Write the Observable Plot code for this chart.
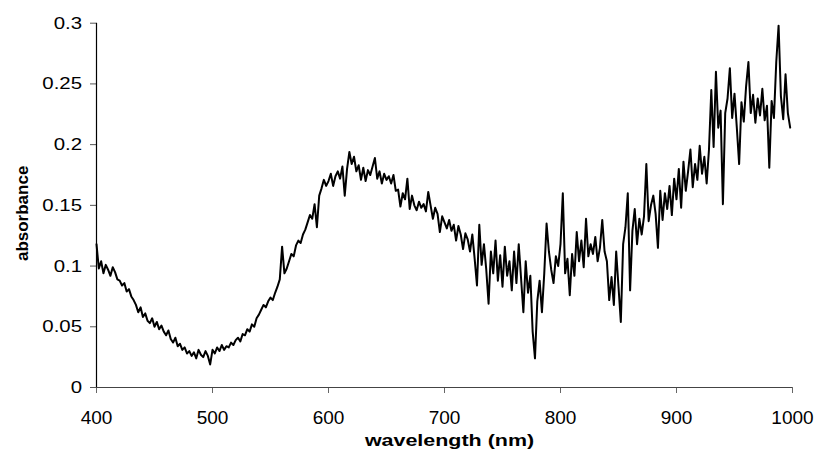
<!DOCTYPE html>
<html>
<head>
<meta charset="utf-8">
<script src="https://cdn.jsdelivr.net/npm/d3@7"></script>
<script src="https://cdn.jsdelivr.net/npm/@observablehq/plot@0.6"></script>
<style>
  html, body { margin: 0; padding: 0; background: #fff; }
  #chart { width: 815px; height: 450px; overflow: hidden; }
</style>
</head>
<body>
<div id="chart"></div>
<script>
// Sampling grid of the spectrum (nm)
const wavelengthStart = 400;
const wavelengthStep = 2;

// Absorbance, one value per 2 nm from 400 to 998 nm
const absorbance = [
  0.118, 0.098, 0.104, 0.094, 0.101, 0.097, 0.092, 0.099, 0.095, 0.089,
  0.088, 0.084, 0.086, 0.079, 0.081, 0.075, 0.072, 0.068, 0.062, 0.066,
  0.058, 0.061, 0.055, 0.053, 0.057, 0.050, 0.054, 0.048, 0.051, 0.046,
  0.043, 0.047, 0.040, 0.037, 0.041, 0.034, 0.036, 0.031, 0.033, 0.028,
  0.030, 0.026, 0.029, 0.024, 0.031, 0.027, 0.025, 0.030, 0.026, 0.019,
  0.031, 0.028, 0.033, 0.030, 0.035, 0.031, 0.034, 0.033, 0.037, 0.035,
  0.039, 0.041, 0.038, 0.044, 0.043, 0.048, 0.046, 0.052, 0.050, 0.057,
  0.060, 0.064, 0.068, 0.066, 0.071, 0.074, 0.072, 0.078, 0.083, 0.089,
  0.116, 0.094, 0.098, 0.104, 0.110, 0.108, 0.117, 0.121, 0.119, 0.126,
  0.130, 0.136, 0.142, 0.139, 0.151, 0.132, 0.158, 0.164, 0.171, 0.166,
  0.170, 0.176, 0.166, 0.174, 0.178, 0.172, 0.182, 0.158, 0.180, 0.194,
  0.184, 0.190, 0.178, 0.183, 0.171, 0.181, 0.170, 0.179, 0.175, 0.182,
  0.189, 0.172, 0.178, 0.168, 0.176, 0.171, 0.174, 0.168, 0.175, 0.162,
  0.163, 0.149, 0.160, 0.155, 0.172, 0.147, 0.158, 0.150, 0.146, 0.153,
  0.148, 0.151, 0.145, 0.161, 0.150, 0.139, 0.148, 0.143, 0.128, 0.141,
  0.136, 0.131, 0.138, 0.129, 0.134, 0.121, 0.133, 0.126, 0.114, 0.127,
  0.122, 0.112, 0.126, 0.106, 0.084, 0.134, 0.101, 0.118, 0.097, 0.069,
  0.112, 0.094, 0.121, 0.088, 0.109, 0.083, 0.116, 0.092, 0.104, 0.080,
  0.112, 0.086, 0.118, 0.090, 0.062, 0.104, 0.078, 0.092, 0.046, 0.024,
  0.071, 0.088, 0.062, 0.094, 0.135, 0.112, 0.097, 0.086, 0.108, 0.100,
  0.118, 0.160, 0.094, 0.106, 0.076, 0.110, 0.092, 0.128, 0.104, 0.121,
  0.099, 0.139, 0.108, 0.118, 0.110, 0.124, 0.104, 0.115, 0.138, 0.112,
  0.104, 0.072, 0.091, 0.068, 0.112, 0.083, 0.054, 0.118, 0.132, 0.160,
  0.080, 0.129, 0.147, 0.118, 0.139, 0.126, 0.141, 0.184, 0.137, 0.150,
  0.158, 0.143, 0.115, 0.162, 0.138, 0.160, 0.147, 0.166, 0.142, 0.172,
  0.155, 0.180, 0.148, 0.186, 0.162, 0.178, 0.196, 0.165, 0.184, 0.171,
  0.199, 0.176, 0.190, 0.168, 0.196, 0.245, 0.198, 0.260, 0.214, 0.228,
  0.151, 0.226, 0.238, 0.263, 0.222, 0.242, 0.214, 0.184, 0.235, 0.219,
  0.248, 0.268, 0.226, 0.241, 0.218, 0.238, 0.224, 0.246, 0.220, 0.232,
  0.181, 0.236, 0.222, 0.268, 0.298, 0.240, 0.221, 0.258, 0.226, 0.214
];

// Axis ticks and labels
const xTicks = [400, 500, 600, 700, 800, 900, 1000];
const xTickLabels = ["400", "500", "600", "700", "800", "900", "1000"];
const yTicks = [0, 0.05, 0.1, 0.15, 0.2, 0.25, 0.3];
const yTickLabels = ["0", "0.05", "0.1", "0.15", "0.2", "0.25", "0.3"];
const xTitle = "wavelength (nm)";
const yTitle = "absorbance";

const spectrum = absorbance.map((a, i) => ({
  wavelength: wavelengthStart + i * wavelengthStep,
  absorbance: a
}));

const FONT = "'Liberation Sans', Arial, Helvetica, sans-serif";

const chart = Plot.plot({
  width: 815,
  height: 450,
  marginLeft: 96,
  marginRight: 23,
  marginTop: 22.7,
  marginBottom: 63,
  style: { fontFamily: FONT, color: "#000", background: "#fff", overflow: "hidden" },
  x: { domain: [400, 1000] },
  y: { domain: [0, 0.3] },
  marks: [
    Plot.axisX({
      ticks: xTicks,
      tickFormat: d => xTickLabels[xTicks.indexOf(d)],
      tickSize: 6,
      tickPadding: 16.5,
      fontSize: 19,
      stroke: "#666",
      label: null
    }),
    Plot.axisY({
      ticks: yTicks,
      tickFormat: d => yTickLabels[yTicks.indexOf(d)],
      tickSize: 6,
      tickPadding: 8.5,
      fontSize: 17,
      stroke: "#555",
      label: null
    }),
    Plot.ruleY([0], { stroke: "#444", strokeWidth: 1.2 }),
    Plot.ruleX([400], { stroke: "#000", strokeWidth: 1.2 }),
    Plot.line(spectrum, {
      x: "wavelength",
      y: "absorbance",
      stroke: "#000",
      strokeWidth: 2,
      strokeLinejoin: "round"
    }),
    Plot.text([yTitle], {
      text: d => d,
      frameAnchor: "left",
      textAnchor: "middle",
      dx: -74,
      dy: 8,
      rotate: -90,
      fontSize: 17,
      fontWeight: "bold",
      fill: "#000"
    }),
    Plot.text([xTitle], {
      text: d => d,
      frameAnchor: "bottom",
      textAnchor: "middle",
      dx: 5,
      dy: 58.7,
      lineAnchor: "bottom",
      fontSize: 16.5,
      fontWeight: "bold",
      fill: "#000"
    })
  ]
});

document.getElementById("chart").append(chart);

// widen texts horizontally like the reference's stretched rendering
function stretchText(t, k) {
  const L = t.getComputedTextLength();
  if (L > 0) {
    t.setAttribute("textLength", (L * k).toFixed(2));
    t.setAttribute("lengthAdjust", "spacingAndGlyphs");
  }
}
chart.querySelectorAll('[aria-label="y-axis tick label"] text').forEach(t => stretchText(t, 1.2));
chart.querySelectorAll("text").forEach(t => {
  if (t.textContent === xTitle) stretchText(t, 1.3);
});
</script>
</body>
</html>
